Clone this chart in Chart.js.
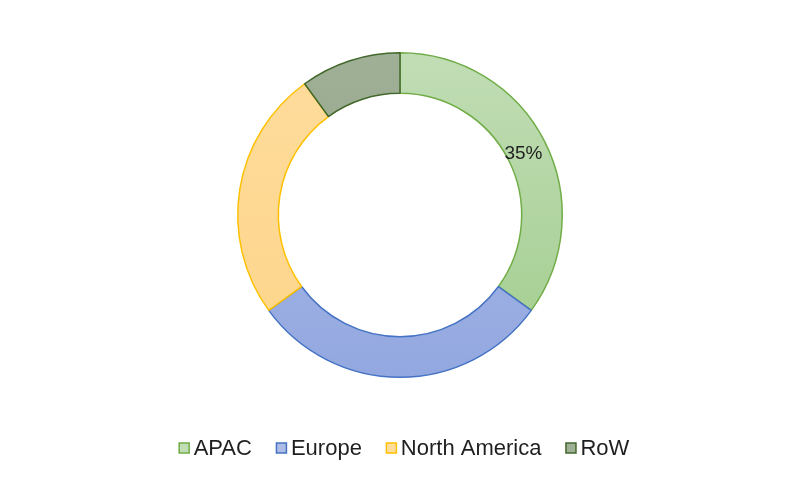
<!DOCTYPE html>
<html>
<head>
<meta charset="utf-8">
<script src="https://cdn.jsdelivr.net/npm/chart.js@4.4.1/dist/chart.umd.min.js"></script>
<style>
  html, body { margin: 0; padding: 0; background: #fff; }
  #wrap { width: 800px; height: 481px; }
</style>
</head>
<body>
<div id="wrap"><canvas id="donut"></canvas></div>
<script>
// data
const regions = ['APAC', 'Europe', 'North America', 'RoW'];
const shares = [35, 30, 25, 10];
const shownLabels = ['35%', '', '', ''];

// styles (light top / darker bottom of each slice)
const fillTop = ['#c1ddb5', '#aebde8', '#fedc9c', '#a0b097'];
const fillBottom = ['#a2cd8e', '#93a8e0', '#fdd58a', '#8a9d80'];
const borders = ['#70ad47', '#4472c4', '#ffc000', '#43682b'];
const FONT = '"Liberation Sans", Arial, sans-serif';

function sliceFill(c) {
  const { chart, dataIndex } = c;
  const area = chart.chartArea;
  if (!area) return fillBottom[dataIndex];
  const g = chart.ctx.createLinearGradient(0, area.top, 0, area.bottom);
  g.addColorStop(0, fillTop[dataIndex]);
  g.addColorStop(1, fillBottom[dataIndex]);
  return g;
}

// percentage label at the arc centre
const sliceLabels = {
  id: 'sliceLabels',
  afterDatasetsDraw(chart) {
    const { ctx } = chart;
    const meta = chart.getDatasetMeta(0);
    ctx.save();
    ctx.font = '19px ' + FONT;
    ctx.fillStyle = '#1f1f1f';
    ctx.textAlign = 'center';
    ctx.textBaseline = 'middle';
    meta.data.forEach((arc, i) => {
      if (!shownLabels[i]) return;
      const pos = arc.tooltipPosition();
      ctx.fillText(shownLabels[i], pos.x - 3, pos.y + 3);
    });
    ctx.restore();
  }
};

// legend with tight square-to-text spacing, like the office style
const bottomLegend = {
  id: 'bottomLegend',
  afterDraw(chart) {
    const { ctx, width } = chart;
    const box = 11, gap = 4, spacing = 24, y = 448;
    ctx.save();
    ctx.font = '22px ' + FONT;
    const widths = regions.map(r => ctx.measureText(r).width);
    const total = widths.reduce((a, w) => a + box + gap + w, 0) + spacing * (regions.length - 1);
    let x = (width - total) / 2 + 4;
    ctx.textBaseline = 'middle';
    ctx.textAlign = 'left';
    regions.forEach((r, i) => {
      ctx.fillStyle = fillTop[i];
      ctx.fillRect(x + 0.5, y - box / 2 + 0.5, box - 1, box - 1);
      ctx.strokeStyle = borders[i];
      ctx.lineWidth = 1.5;
      ctx.strokeRect(x + 0.5, y - box / 2 + 0.5, box - 1, box - 1);
      ctx.fillStyle = '#1f1f1f';
      ctx.fillText(r, x + box + gap, y + 1);
      x += box + gap + widths[i] + spacing;
    });
    ctx.restore();
  }
};

const ctx = document.getElementById('donut').getContext('2d');
new Chart(ctx, {
  type: 'doughnut',
  data: {
    labels: regions,
    datasets: [{
      data: shares,
      backgroundColor: sliceFill,
      borderColor: borders,
      borderWidth: 1.5,
      hoverOffset: 0
    }]
  },
  options: {
    responsive: true,
    maintainAspectRatio: false,
    animation: false,
    cutout: '75%',
    layout: { padding: { top: 52, bottom: 103 } },
    plugins: {
      tooltip: { enabled: false },
      legend: { display: false }
    }
  },
  plugins: [sliceLabels, bottomLegend]
});
</script>
</body>
</html>
